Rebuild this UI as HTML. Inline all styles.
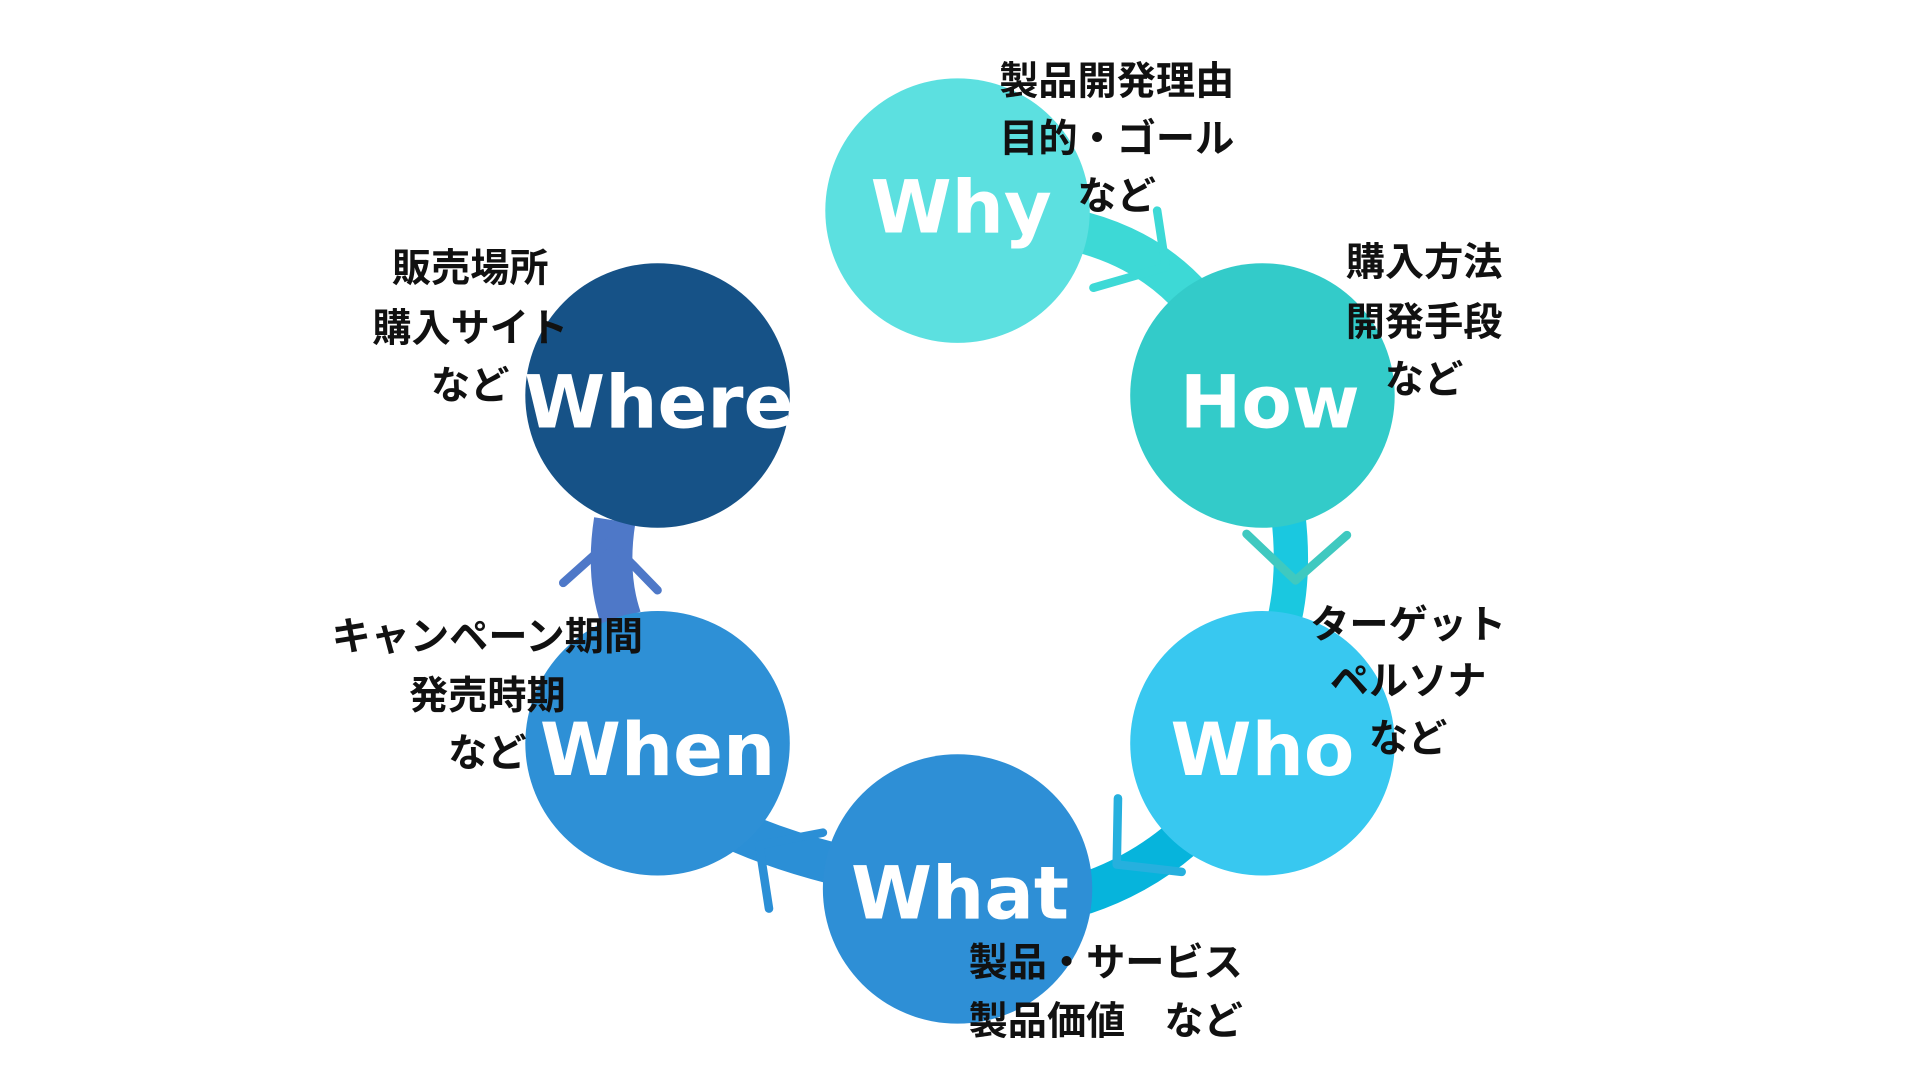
<!DOCTYPE html>
<html><head><meta charset="utf-8"><style>
html,body{margin:0;padding:0;background:#fff;width:1920px;height:1080px;overflow:hidden}
svg{display:block}
.l{font-family:"DejaVu Sans","Liberation Sans",sans-serif;font-weight:bold;fill:#fff;font-size:60px;text-anchor:middle}
.t{font-family:"Liberation Sans","Noto Sans CJK JP",sans-serif;font-weight:bold;fill:#111;font-size:32px;text-anchor:middle}
</style></head><body>
<svg width="1920" height="1080" viewBox="0 0 1568 882" preserveAspectRatio="none" xmlns="http://www.w3.org/2000/svg">
<g fill="none" stroke-linecap="butt">
<path d="M885 190 Q940 205 975 245" stroke="#3dd9d6" stroke-width="34"/>
<path d="M1052 420 Q1058 470 1048 510" stroke="#1ac8e0" stroke-width="28"/>
<path d="M965 685 Q930 715 885 730" stroke="#06b4dc" stroke-width="34"/>
<path d="M680 705 Q640 695 605 680" stroke="#2b8fd6" stroke-width="34"/>
<path d="M507 505 Q495 470 502 425" stroke="#4e78c8" stroke-width="34"/>
</g>
<circle cx="782" cy="172" r="108" fill="#5ce0e0"/>
<circle cx="1031" cy="323" r="108" fill="#33cbc9"/>
<circle cx="1031" cy="607" r="108" fill="#38c8f0"/>
<circle cx="537" cy="607" r="108" fill="#2e90d6"/>
<circle cx="782" cy="726" r="110" fill="#2e8fd6"/>
<circle cx="537" cy="323" r="108" fill="#165287"/>
<g fill="none" stroke-width="7" stroke-linecap="round" stroke-linejoin="round">
<path d="M945 172 L952 218 L893 235" stroke="#3dd9d6"/>
<path d="M1018 436 L1058 474 L1100 437" stroke="#3fc9c0"/>
<path d="M913 652 L912 706 L965 712" stroke="#26b0de"/>
<path d="M628 742 L620 690 L672 680" stroke="#2b8fd6"/>
<path d="M460 476 L498 442 L537 482" stroke="#4e78c8"/>
</g>
<text class="l" x="785" y="190">Why</text>
<text class="l" x="1037" y="349">How</text>
<text class="l" x="1031" y="633">Who</text>
<text class="l" x="784" y="750">What</text>
<text class="l" x="537" y="633">When</text>
<text class="l" x="538" y="349">Where</text>
<g class="t">
<text x="912" y="77">製品開発理由</text>
<text x="912" y="124">目的・ゴール</text>
<text x="912" y="171">など</text>
<text x="1163" y="225">購入方法</text>
<text x="1163" y="274">開発手段</text>
<text x="1163" y="321">など</text>
<text x="1150" y="521">ターゲット</text>
<text x="1150" y="567">ペルソナ</text>
<text x="1150" y="614">など</text>
<text x="398" y="531">キャンペーン期間</text>
<text x="398" y="579">発売時期</text>
<text x="398" y="626">など</text>
<text x="384" y="230">販売場所</text>
<text x="384" y="279">購入サイト</text>
<text x="384" y="326">など</text>
<text x="903" y="797">製品・サービス</text>
<text x="903" y="845">製品価値　など</text>
</g>
</svg>
</body></html>
